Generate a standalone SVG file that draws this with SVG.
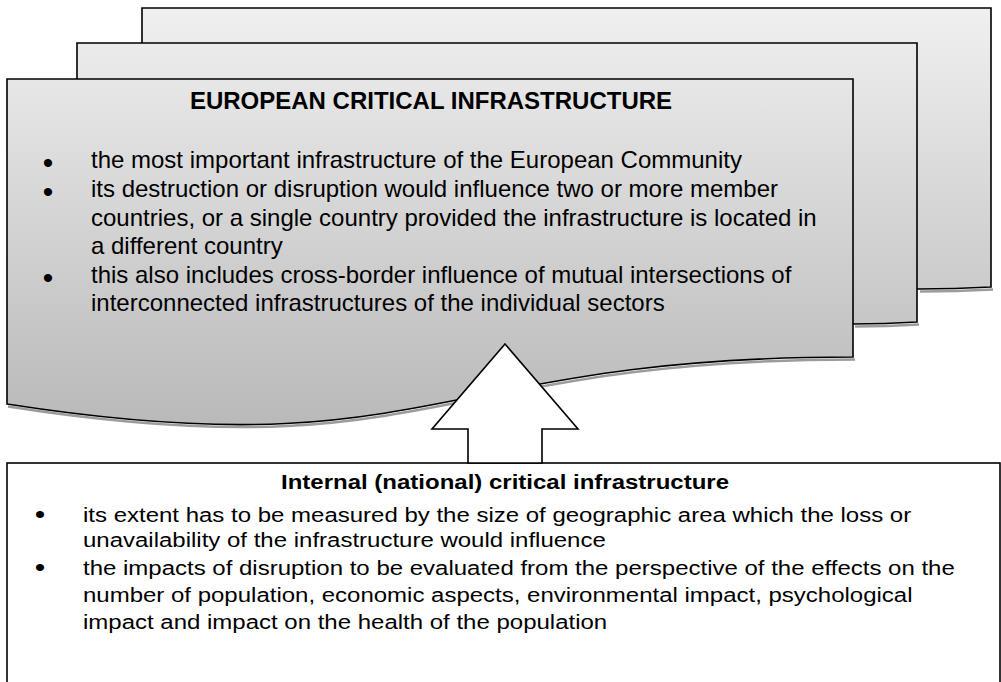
<svg xmlns="http://www.w3.org/2000/svg" width="1001" height="682" viewBox="0 0 1001 682">
<style>
.doc{fill:url(#g);stroke:#000;stroke-width:1.6;stroke-linejoin:miter}
.sh{fill:none;stroke:#9c9c9c;stroke-width:2.5}
.t{font-family:"Liberation Sans",Arial,sans-serif;font-size:24px;fill:#000}
.b{font-weight:bold}
.bu{font-family:"Liberation Sans",Arial,sans-serif;font-size:30px;fill:#000;text-anchor:middle}
.box{fill:#fff;stroke:#000;stroke-width:1.6}
</style>
<defs>
<linearGradient id="g" gradientUnits="userSpaceOnUse" x1="0" y1="8" x2="0" y2="425">
<stop offset="0" stop-color="#f0f0f0"/>
<stop offset="1" stop-color="#b9b9b9"/>
</linearGradient>
</defs>
<rect width="1001" height="682" fill="#fff"/>
<g id="bottom-box">
<rect class="box" x="7" y="463" width="993" height="240"/>
<g transform="translate(0,489) scale(1,0.84)">
<text class="t b" x="505" y="0" text-anchor="middle">Internal (national) critical infrastructure</text>
<text class="bu" x="40" y="40">•</text>
<text class="t" x="83" y="39.3">its extent has to be measured by the size of geographic area which the loss or</text>
<text class="t" x="83" y="69">unavailability of the infrastructure would influence</text>
<text class="bu" x="40" y="103">•</text>
<text class="t" x="83" y="102.4">the impacts of disruption to be evaluated from the perspective of the effects on the</text>
<text class="t" x="83" y="134.5">number of population, economic aspects, environmental impact, psychological</text>
<text class="t" x="83" y="166.7">impact and impact on the health of the population</text>
</g>
</g>
<g id="european-ci">
<path class="sh" d="M993,289.5 Q957,291.5 920,291.5"/>
<path class="doc" d="M142,8 H991 V287 Q955,289 918,289 L142,289 Z"/>
<path class="sh" d="M919,324.5 Q887,326.5 855,326.5"/>
<path class="doc" d="M77,43 H917 V322 Q885,324 853,324 L77,324 Z"/>
<path class="sh" d="M8,406.5 C431,472.5 431,359.5 855,359.5"/>
<path class="doc" d="M7,79 H853 V357 C430,357 430,470 7,404 Z"/>
<text class="t b" x="431" y="109" text-anchor="middle">EUROPEAN CRITICAL INFRASTRUCTURE</text>
<text class="bu" x="48" y="172.7">•</text>
<text class="t" x="91" y="168">the most important infrastructure of the European Community</text>
<text class="bu" x="48" y="201.7">•</text>
<text class="t" x="91" y="197">its destruction or disruption would influence two or more member</text>
<text class="t" x="91" y="226">countries, or a single country provided the infrastructure is located in</text>
<text class="t" x="91" y="254">a different country</text>
<text class="bu" x="48" y="287.7">•</text>
<text class="t" x="91" y="283">this also includes cross-border influence of mutual intersections of</text>
<text class="t" x="91" y="311">interconnected infrastructures of the individual sectors</text>
</g>
<g id="connectors">
<path d="M505,344 L578,429 H542 V463 H468 V429 H432 Z" fill="#fff" stroke="#000" stroke-width="1.6" stroke-linejoin="miter"/>
</g>
</svg>
